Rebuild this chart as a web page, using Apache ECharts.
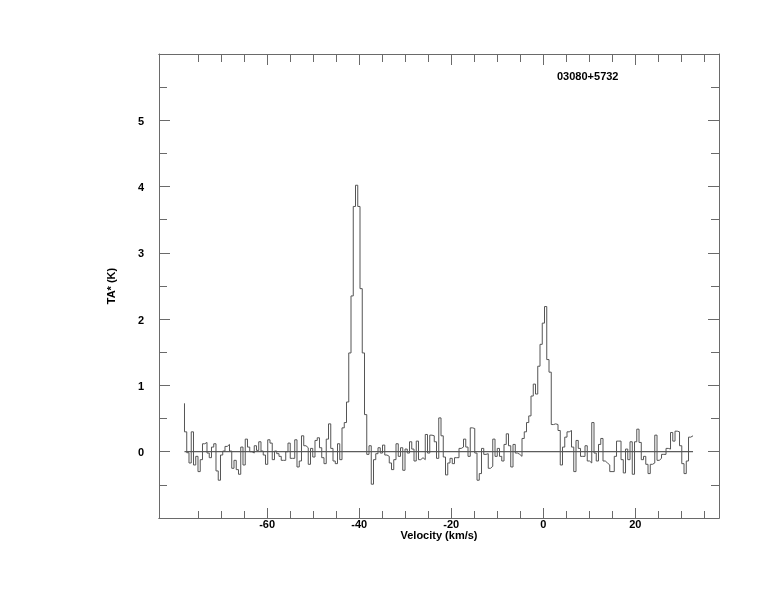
<!DOCTYPE html>
<html><head><meta charset="utf-8">
<script src="https://cdn.jsdelivr.net/npm/echarts@6/dist/echarts.min.js"></script>
<style>html,body{margin:0;padding:0;background:#fff}#c{width:774px;height:612px}</style>
</head><body><div id="c"></div>
<script>
const titleText = '03080+5732';
const xName = 'Velocity (km/s)';
const yName = 'TA* (K)';
// channel grid of the spectrum: first channel edge and channel width (km/s)
const vStart = -77.96;
const chanWidth = 0.489;
const xMajorTicks = [-60, -40, -20, 0, 20];
const xMinorTicks = [-75,-70,-65,-60,-55,-50,-45,-40,-35,-30,-25,-20,-15,-10,-5,0,5,10,15,20,25,30,35];
const yLabels = [0, 1, 2, 3, 4, 5];
// antenna temperature per channel (K); first entry is the starting level
const ta = [0.73,
0.30,-0.015,-0.17,0.30,-0.20,-0.07,-0.30,-0.12,0.12,0.14,
-0.02,-0.09,0.07,0.12,-0.29,-0.43,-0.05,0.01,0.08,0.11,
0.01,-0.25,-0.13,-0.27,-0.34,0.07,-0.20,0.19,0.07,0.00,
-0.02,0.09,0.02,0.15,0.01,-0.05,-0.19,0.18,0.13,-0.12,
0.01,-0.03,-0.07,-0.13,-0.13,0.00,0.13,-0.10,-0.10,0.18,
-0.23,-0.14,0.24,0.09,0.06,-0.19,0.05,-0.08,0.17,0.21,
0.06,-0.09,-0.18,0.19,0.42,0.05,-0.14,-0.18,0.12,-0.12,
0.36,0.44,0.75,1.49,2.35,3.70,4.02,3.70,2.46,1.49,
0.56,-0.04,0.09,-0.49,-0.12,-0.03,0.06,-0.02,0.10,-0.05,
-0.07,-0.17,-0.27,-0.12,0.12,-0.07,0.06,-0.28,0.04,-0.02,
0.15,0.04,-0.14,0.16,-0.12,-0.09,-0.12,0.26,-0.02,0.25,
0.24,0.15,-0.10,0.51,0.24,-0.08,-0.35,-0.17,-0.10,-0.18,
-0.09,-0.09,0.05,0.07,0.19,0.07,-0.07,0.36,0.35,-0.02,
-0.43,-0.33,0.05,-0.04,-0.03,-0.25,-0.22,0.19,-0.07,0.05,
-0.07,-0.14,0.11,0.27,0.09,-0.23,0.11,-0.02,-0.04,-0.07,
0.20,0.30,0.44,0.54,0.84,1.02,0.87,1.29,1.62,1.94,
2.19,1.39,1.20,0.41,0.42,0.41,0.32,-0.20,0.07,0.22,
0.30,0.32,0.07,-0.30,0.17,0.05,-0.07,-0.07,0.09,-0.14,
-0.17,0.44,-0.02,-0.14,0.11,0.20,-0.14,-0.17,-0.20,-0.30,
-0.30,-0.07,0.16,0.16,-0.12,-0.32,0.04,-0.12,0.15,-0.34,
0.15,0.34,0.14,-0.12,-0.07,-0.19,-0.33,-0.19,-0.17,0.25,
-0.13,-0.10,-0.04,-0.04,0.05,0.04,0.29,0.16,0.31,0.30,
0.09,-0.18,-0.33,-0.14,0.22,0.24];

const spec = ta.map((t, i) => [vStart + i * chanWidth, t]);
const vEnd = vStart + (ta.length - 1) * chanWidth;
const baseline = [[vStart, 0], [vEnd, 0]];

const axisColor = '#6a6a6a';
const font = {fontFamily: 'Liberation Sans', fontWeight: 'bold', fontSize: 11, color: '#000'};
const xMin = -83.5, xMax = 38.2;

function xAx(pos, ticks, len, labels) {
  return {
    type: 'value', position: pos, min: xMin, max: xMax,
    axisLine: {show: true, onZero: false, lineStyle: {color: axisColor, width: 1}},
    splitLine: {show: false},
    axisTick: {show: true, inside: true, length: len, customValues: ticks, lineStyle: {color: axisColor}},
    axisLabel: labels ? Object.assign({show: true, customValues: xMajorTicks, margin: 1}, font) : {show: false},
    name: labels ? xName : '', nameLocation: 'middle', nameGap: 12, nameMoveOverlap: false,
    nameTextStyle: font
  };
}
function yAx(pos, labels) {
  return {
    type: 'value', position: pos, min: -1, max: 6, interval: 1,
    axisLine: {show: true, onZero: false, lineStyle: {color: axisColor, width: 1}},
    splitLine: {show: false},
    axisTick: {show: true, inside: true, length: 11, lineStyle: {color: axisColor}},
    minorTick: {show: true, splitNumber: 2, length: 8, lineStyle: {color: axisColor}},
    axisLabel: labels ? Object.assign({show: true, customValues: yLabels, margin: 15, verticalAlign: 'top', lineHeight: 3}, font) : {show: false},
    name: labels ? yName : '', nameLocation: 'middle', nameGap: 42, nameRotate: 90, nameMoveOverlap: false,
    nameTextStyle: font
  };
}

const chart = echarts.init(document.getElementById('c'), null, {renderer: 'canvas'});
chart.setOption({
  animation: false,
  backgroundColor: '#fff',
  title: {text: titleText, left: 552, top: 66, textStyle: font},
  grid: {left: 159, top: 54, width: 560, height: 464, containLabel: false},
  xAxis: [xAx('bottom', xMajorTicks, 10, true), xAx('bottom', xMinorTicks, 7, false),
          xAx('top', xMajorTicks, 11, false), xAx('top', xMinorTicks, 8, false)],
  yAxis: [yAx('left', true), yAx('right', false)],
  series: [
    {type: 'line', data: baseline, xAxisIndex: 0, yAxisIndex: 0, symbol: 'none',
     lineStyle: {color: '#333', width: 1}, silent: true},
    {type: 'line', data: spec, step: 'start', xAxisIndex: 0, yAxisIndex: 0, symbol: 'none',
     lineStyle: {color: '#555', width: 1}, silent: true}
  ]
});
</script>
</body></html>
